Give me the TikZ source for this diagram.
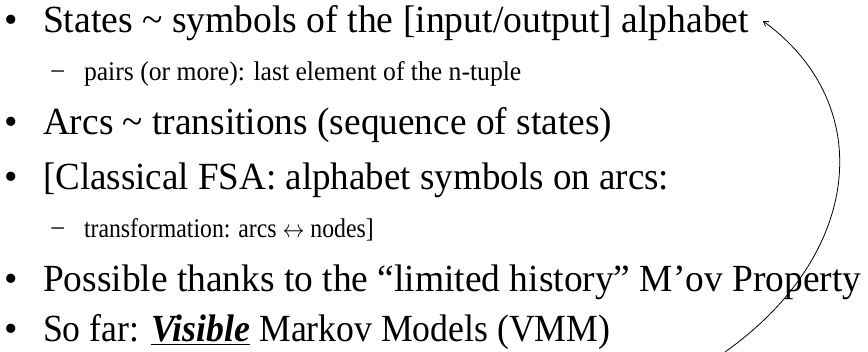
\documentclass[tikz,border=0pt]{standalone}
\usepackage{fontspec}
\usepackage{graphicx}
\setmainfont{Liberation Serif}
\usetikzlibrary{arrows.meta}
\begin{document}
\begin{tikzpicture}[x=1pt,y=-1pt,
  every node/.style={inner sep=0pt, outer sep=0pt, anchor=base west},
  mainline/.style={font=\fontsize{38.4}{44}\selectfont},
  subline/.style={font=\fontsize{27}{32}\selectfont},
  conn/.style={line width=0.8pt, -{Straight Barb[length=4.5pt,width=6pt]}}]
\useasboundingbox (0,0) rectangle (868,352);
% main bullets
\node[mainline] (b1) at (5,33) {•};
\node[mainline] (t1) at (43,33) {\scalebox{0.98}[1]{States \textasciitilde{} symbols of the [input/output] alphabet}};
\node[subline] (d1) at (50,81) {−};
\node[subline] (s1) at (84,81) {\scalebox{0.95}[1]{pairs (or more): last element of the n-tuple}};
\node[mainline] (b2) at (5,135) {•};
\node[mainline] (t2) at (43,135) {\scalebox{0.973}[1]{Arcs \textasciitilde{} transitions (sequence of states)}};
\node[mainline] (b3) at (5,190) {•};
\node[mainline] (t3) at (43,190) {\scalebox{0.964}[1]{[Classical FSA: alphabet symbols on arcs:}};
\node[subline] (d2) at (50,238) {−};
\node[subline] (s2) at (84,238) {\scalebox{0.88}[1]{transformation: arcs $\leftrightarrow$ nodes]}};
\node[mainline] (b4) at (5,292) {•};
\node[mainline] (t4) at (43,292) {\scalebox{0.975}[1]{Possible thanks to the “limited history” M’ov Property}};
\node[mainline] (b5) at (5,342) {•};
\node[mainline] (t5) at (43,342) {\scalebox{0.93}[1]{So far: \underline{\textbf{\textit{Visible}}} Markov Models (VMM)}};
% connector
\coordinate (start) at (725,352);
\coordinate (tip) at (763,21);
\draw[conn] (start) .. controls (862,255) and (878,105) .. (tip);
\end{tikzpicture}
\end{document}
